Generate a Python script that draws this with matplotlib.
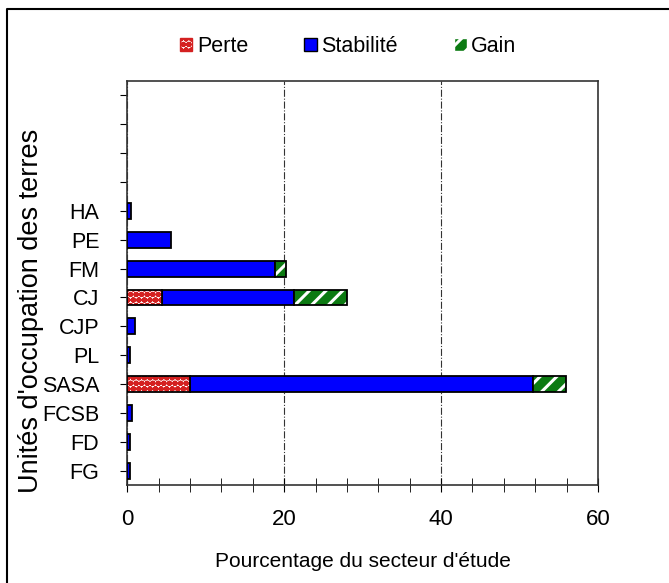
import matplotlib
matplotlib.use("Agg")
import matplotlib.pyplot as plt
import numpy as np
from matplotlib.lines import Line2D
from matplotlib.patches import Patch
from matplotlib.ticker import MultipleLocator

plt.rcParams["font.family"] = ["Liberation Sans", "DejaVu Sans"]
plt.rcParams["hatch.linewidth"] = 2.2

# land-use units, top to bottom
categories = ["HA", "PE", "FM", "CJ", "CJP", "PL", "SASA", "FCSB", "FD", "FG"]
perte = [0.0, 0.0, 0.0, 4.5, 0.0, 0.0, 8.0, 0.0, 0.0, 0.0]
stabilite = [0.5, 5.6, 18.9, 16.7, 1.0, 0.4, 43.7, 0.6, 0.4, 0.4]
gain = [0.0, 0.0, 1.3, 6.8, 0.0, 0.0, 4.2, 0.0, 0.0, 0.0]
n_empty = 4  # empty category slots above HA

BLUE = "#0000ff"
GREEN = "#0c7a12"
RED = "#d42020"

fig = plt.figure(figsize=(6.69, 5.83), dpi=100)
ax = fig.add_axes([0.19, 0.168, 0.704, 0.693])

y = np.arange(len(categories)) + n_empty
perte = np.array(perte)
stabilite = np.array(stabilite)
gain = np.array(gain)
h = 0.55

ax.barh(y, stabilite, left=perte, height=h, color=BLUE, edgecolor="black", linewidth=1.3, zorder=3)

m = perte > 0
ax.barh(y[m], perte[m], height=h, color="white", edgecolor=RED, hatch="ooo", linewidth=0, zorder=3)
ax.barh(y[m], perte[m], height=h, color="none", edgecolor="black", linewidth=1.3, zorder=4)

m = gain > 0
ax.barh(y[m], gain[m], left=(perte + stabilite)[m], height=h, color=GREEN, edgecolor="white",
        hatch="//", linewidth=0, zorder=3)
ax.barh(y[m], gain[m], left=(perte + stabilite)[m], height=h, color="none", edgecolor="black",
        linewidth=1.3, zorder=4)

ax.set_ylim(len(categories) + n_empty - 0.5, -0.5)
ax.set_yticks(np.arange(len(categories) + n_empty))
ax.set_yticklabels([""] * n_empty + categories, fontsize=15.5)
ax.set_xlim(0, 60)
ax.xaxis.set_major_locator(MultipleLocator(20))
ax.xaxis.set_minor_locator(MultipleLocator(4))
ax.tick_params(axis="x", which="major", labelsize=16, direction="inout", length=10, pad=12)
ax.tick_params(axis="x", which="minor", direction="inout", length=10)
ax.tick_params(axis="y", length=5, pad=15)
ax.grid(axis="x", which="major", linestyle="-.", color="#333333", linewidth=0.8, zorder=0)

for s in ax.spines.values():
    s.set_linewidth(1.2)
    s.set_color("#333333")

ax.set_xlabel("Pourcentage du secteur d'étude", fontsize=15, labelpad=16)
ax.set_ylabel("Unités d'occupation des terres", fontsize=19.5)
ax.yaxis.set_label_coords(-0.176, 0.43)

handles = [
    Patch(facecolor="white", edgecolor=RED, hatch="ooo", label="Perte"),
    Patch(facecolor=BLUE, edgecolor="black", label="Stabilité"),
    Patch(facecolor=GREEN, edgecolor="white", hatch="//", label="Gain"),
]
fig.legend(handles=handles, loc="center", bbox_to_anchor=(0.52, 0.92), ncol=3, frameon=False,
           fontsize=15.5, handlelength=0.6, handleheight=0.6, handletextpad=0.2, columnspacing=2.6)

# outer frame, only its top and left edges fall inside the picture
fig.add_artist(Line2D([7 / 669, 7 / 669, 1.0], [0.0, 1 - 9 / 583, 1 - 9 / 583],
                      transform=fig.transFigure, color="black", linewidth=1.5))

fig.savefig("out.png", dpi=100)
